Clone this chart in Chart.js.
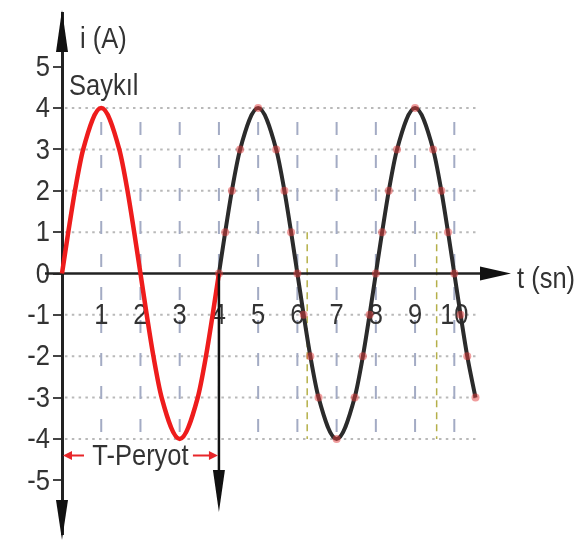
<!DOCTYPE html>
<html lang="tr">
<head>
    <meta charset="UTF-8">
    <title>Alternatif akım - i(t)</title>
    <script src="https://cdn.jsdelivr.net/npm/chart.js"></script>
    <style>
        html, body { margin: 0; padding: 0; background: #fff; }
        #wrap { width: 576px; height: 541px; }
    </style>
</head>
<body>
    <div id="wrap"><canvas id="sineChart" width="576" height="541"></canvas></div>
<script>
// zaman (sn) ve akım (A) değerleri - grafikten okunan noktalar
const kirmiziT = [0, 0.16, 0.33, 0.54, 1, 1.46, 1.67, 1.84, 2, 2.16, 2.33, 2.54, 3, 3.46, 3.67, 3.84, 4];
const kirmiziI = [0, 1, 2, 3, 4, 3, 2, 1, 0, -1, -2, -3, -4, -3, -2, -1, 0];
const siyahT = [4, 4.16, 4.33, 4.54, 5, 5.46, 5.67, 5.84, 6, 6.16, 6.33, 6.54, 7, 7.46, 7.67, 7.84,
                8, 8.16, 8.33, 8.54, 9, 9.46, 9.67, 9.84, 10, 10.16, 10.33, 10.54];
const siyahI = [0, 1, 2, 3, 4, 3, 2, 1, 0, -1, -2, -3, -4, -3, -2, -1,
                0, 1, 2, 3, 4, 3, 2, 1, 0, -1, -2, -3];
const yTikler = [-5, -4, -3, -2, -1, 0, 1, 2, 3, 4, 5];
const xTikler = ['1', '2', '3', '4', '5', '6', '7', '8', '9', '10'];
const izgaraY = [-4, -3, -2, -1, 1, 2, 3, 4];
const sariCizgiler = [6.25, 9.55];

const FONT = '30px "Liberation Sans", Arial, sans-serif';
const DAR = 0.85; // yazılar yatayda biraz dar

function yazi(ctx, metin, x, y, hiza) {
    ctx.save();
    ctx.translate(x, y);
    ctx.scale(DAR, 1);
    ctx.textAlign = hiza;
    ctx.fillText(metin, 0, 0);
    ctx.restore();
}

function ok(ctx, x1, y1, x2, y2, boy, yari) {
    // ucu (x2,y2) olan dolu ok başı
    const a = Math.atan2(y2 - y1, x2 - x1);
    ctx.beginPath();
    ctx.moveTo(x2, y2);
    ctx.lineTo(x2 - boy * Math.cos(a) + yari * Math.sin(a), y2 - boy * Math.sin(a) - yari * Math.cos(a));
    ctx.lineTo(x2 - boy * Math.cos(a) - yari * Math.sin(a), y2 - boy * Math.sin(a) + yari * Math.cos(a));
    ctx.closePath();
    ctx.fill();
}

const cizimler = {
    id: 'cizimler',
    beforeDatasetsDraw(chart) {
        const ctx = chart.ctx, x = chart.scales.x, y = chart.scales.y;
        ctx.save();
        // yatay noktalı ızgara
        ctx.strokeStyle = '#b9b9b9';
        ctx.lineWidth = 2;
        ctx.setLineDash([2.5, 4.3]);
        izgaraY.forEach(v => {
            ctx.beginPath();
            ctx.moveTo(x.getPixelForValue(0) + 3, y.getPixelForValue(v));
            ctx.lineTo(x.getPixelForValue(10.6), y.getPixelForValue(v));
            ctx.stroke();
        });
        // dikey kesikli ızgara
        ctx.strokeStyle = '#a3abc4';
        ctx.setLineDash([13, 20]);
        ctx.lineDashOffset = 19;
        xTikler.forEach((t, k) => {
            const px = x.getPixelForValue(k + 1);
            ctx.beginPath();
            ctx.moveTo(px, y.getPixelForValue(4));
            ctx.lineTo(px, y.getPixelForValue(-4));
            ctx.stroke();
        });
        // sarı kesikli çizgiler
        ctx.strokeStyle = '#b5b04a';
        ctx.lineWidth = 1.5;
        ctx.setLineDash([7, 5]);
        ctx.lineDashOffset = 0;
        sariCizgiler.forEach(t => {
            const px = x.getPixelForValue(t);
            ctx.beginPath();
            ctx.moveTo(px, y.getPixelForValue(1));
            ctx.lineTo(px, y.getPixelForValue(-4));
            ctx.stroke();
        });
        ctx.setLineDash([]);
        // eksen etiketleri
        ctx.fillStyle = '#333';
        ctx.font = FONT;
        ctx.textBaseline = 'middle';
        xTikler.forEach((t, k) => {
            yazi(ctx, t, x.getPixelForValue(k + 1), y.getPixelForValue(-1) + 1, 'center');
        });
        yTikler.forEach(v => {
            yazi(ctx, String(v), 50, y.getPixelForValue(v) + 1, 'right');
        });
        // x ekseni
        const y0 = y.getPixelForValue(0);
        ctx.strokeStyle = '#222';
        ctx.lineWidth = 2.5;
        ctx.beginPath();
        ctx.moveTo(45, y0);
        ctx.lineTo(485, y0);
        ctx.stroke();
        ctx.restore();
    },
    afterDatasetsDraw(chart) {
        const ctx = chart.ctx, x = chart.scales.x, y = chart.scales.y;
        const x0 = x.getPixelForValue(0), y0 = y.getPixelForValue(0), x4 = x.getPixelForValue(4);
        ctx.save();
        ctx.fillStyle = '#111';
        ctx.strokeStyle = '#111';
        // eksen okları
        ok(ctx, x0, 60, x0, 10, 42, 6);
        ok(ctx, x0, 480, x0, 540, 40, 6);
        ok(ctx, 470, y0, 511, y0, 31, 7);
        // T noktasındaki dikey ok
        ctx.lineWidth = 2.5;
        ctx.beginPath();
        ctx.moveTo(x4, y0);
        ctx.lineTo(x4, 480);
        ctx.stroke();
        ok(ctx, x4, 460, x4, 512, 42, 6);
        // T-Peryot okları
        const yp = y.getPixelForValue(-4.4);
        ctx.strokeStyle = '#e8262a';
        ctx.fillStyle = '#e8262a';
        ctx.lineWidth = 2;
        ctx.beginPath();
        ctx.moveTo(x0 + 22, yp); ctx.lineTo(x0 + 6, yp);
        ctx.moveTo(x4 - 26, yp); ctx.lineTo(x4 - 6, yp);
        ctx.stroke();
        ok(ctx, x0 + 20, yp, x0 + 1, yp, 9, 4.5);
        ok(ctx, x4 - 20, yp, x4 - 1, yp, 9, 4.5);
        // yazılar
        ctx.fillStyle = '#333';
        ctx.font = FONT;
        ctx.textBaseline = 'middle';
        yazi(ctx, 'T-Peryot', (x0 + x4) / 2, yp + 1, 'center');
        yazi(ctx, 'i (A)', 80, 40, 'left');
        yazi(ctx, 'Saykıl', 69, 87, 'left');
        yazi(ctx, 't (sn)', 517, y0 + 6, 'left');
        ctx.restore();
    }
};

new Chart(document.getElementById('sineChart').getContext('2d'), {
    type: 'scatter',
    data: {
        datasets: [
            {
                data: kirmiziT.map((t, k) => ({ x: t, y: kirmiziI[k] })),
                showLine: true,
                borderColor: '#ee1c1c',
                borderWidth: 4.5,
                cubicInterpolationMode: 'monotone',
                pointRadius: 0
            },
            {
                data: siyahT.map((t, k) => ({ x: t, y: siyahI[k] })),
                showLine: true,
                borderColor: '#2b2b2b',
                borderWidth: 4,
                cubicInterpolationMode: 'monotone',
                pointRadius: 4,
                pointBorderWidth: 0,
                pointBackgroundColor: 'rgba(225, 60, 60, 0.5)'
            }
        ]
    },
    options: {
        responsive: false,
        animation: false,
        clip: false,
        layout: { padding: { top: 13, bottom: 7, left: 0, right: 3 } },
        plugins: { legend: { display: false }, tooltip: { enabled: false } },
        scales: {
            x: { type: 'linear', min: 0, max: 13, display: false },
            y: {
                type: 'linear', min: -6.3, max: 6.3,
                afterBuildTicks: s => { s.ticks = yTikler.map(v => ({ value: v })); },
                afterFit: s => { s.width = 62; },
                border: { display: true, color: '#222', width: 3 },
                grid: { drawOnChartArea: false, drawTicks: true, tickLength: 9, color: '#444', lineWidth: 2 },
                ticks: { display: false }
            }
        }
    },
    plugins: [cizimler]
});
</script>
</body>
</html>
